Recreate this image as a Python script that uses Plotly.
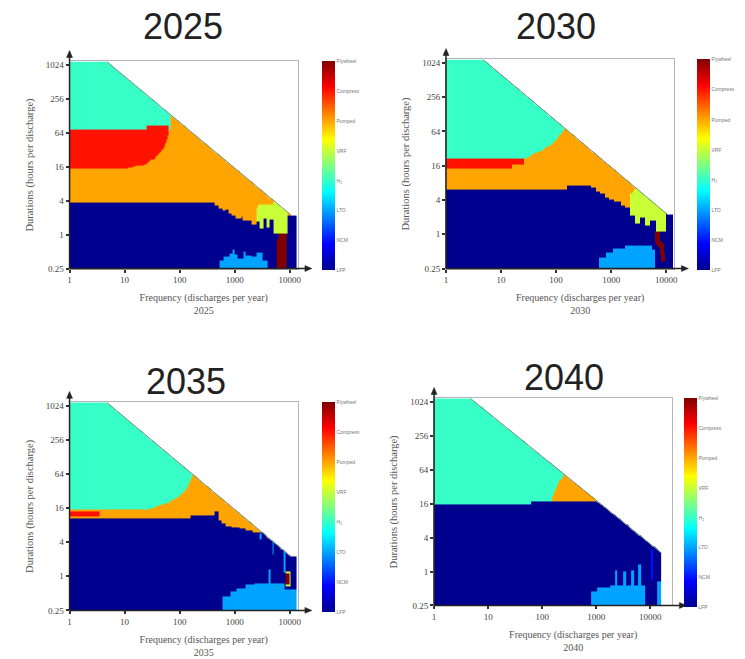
import numpy as np
import plotly.graph_objects as go

# ---------------- data ----------------
categories = ["LFP", "NCM", "LTO", "H<sub>2</sub>", "VRF", "Pumped", "Compress", "Flywheel"]
LFP, NCM, LTO, H2, VRF, PUMPED, COMPRESS, FLYWHEEL = range(8)
years = ["2025", "2030", "2035", "2040"]
freq_tick_vals = [1, 10, 100, 1000, 10000]
freq_tick_text = ["1", "10", "100", "1000", "10000"]
dur_tick_vals = [0.25, 1, 4, 16, 64, 256, 1024]
dur_tick_text = ["0.25", "1", "4", "16", "64", "256", "1024"]

# feasible part of the frequency (discharges/yr) x duration (h) plane
feasible_freq = [1, 1, 4.7, 10700, 13300, 13300]
feasible_hours = [0.25, 1180, 1180, 2.2, 2.2, 0.25]
feasible_2040_freq = [1, 1, 4.7, 16000, 16000]
feasible_2040_hours = [0.25, 1180, 1180, 2.13, 0.25]

# ---- 2025 region outlines (frequency, hours) ----
h2_2025_freq = [1, 68, 68, 1]
h2_2025_hours = [73.5, 73.5, 1200, 1200]
comp_2025_freq = [1, 10, 24, 35, 48, 58, 63, 63, 25, 25, 1]
comp_2025_hours = [14.7, 14.7, 17.8, 22.6, 30.9, 45.3, 64, 83, 83, 74.5, 74.5]
lfp_2025_freq = [1, 1, 430, 430, 500, 500, 600, 600, 690, 690, 760, 760, 890, 890,
                 1050, 1050, 1320, 1320, 1410, 1410, 2000, 2000, 2500, 2500, 13500, 13500]
lfp_2025_hours = [0.25, 3.7, 3.7, 3.25, 3.25, 2.9, 2.9, 2.65, 2.65, 2.85, 2.85, 2.4, 2.4, 2.15,
                  2.15, 1.95, 1.95, 2.05, 2.05, 1.8, 1.8, 1.5, 1.5, 2.25, 2.25, 0.25]
lto_2025_freq = [525, 525, 630, 630, 795, 795, 910, 910, 1000, 1000, 1150, 1150,
                 1450, 1450, 1585, 1585, 2000, 2000, 2510, 2510, 3160, 3160, 3980, 3980]
lto_2025_hours = [0.25, 0.34, 0.34, 0.4, 0.4, 0.47, 0.47, 0.56, 0.56, 0.45, 0.45, 0.38,
                  0.38, 0.5, 0.5, 0.42, 0.42, 0.4, 0.4, 0.49, 0.49, 0.35, 0.35, 0.25]
vrf_2025_freq = [2500, 2820, 5000, 5000, 9100, 9100, 5000, 5000, 4370, 4370, 3800, 3800,
                 3310, 3310, 2950, 2950, 2500]
vrf_2025_hours = [2.83, 3.48, 3.48, 5.3, 5.3, 1.04, 1.04, 1.87, 1.87, 1.32, 1.32, 1.93,
                  1.93, 1.27, 1.27, 1.68, 1.68]
fly_2025_freq = [5750, 5750, 6300, 6300, 8700, 8700]
fly_2025_hours = [0.25, 0.81, 0.81, 1.04, 1.04, 0.25]

# ---- 2030 ----
h2_2030_freq = [1, 28, 40, 56, 76, 93, 110, 126, 145, 145, 1]
h2_2030_hours = [21.9, 21.9, 26, 30.3, 35.5, 42.2, 50.2, 61.8, 73.5, 1200, 1200]
comp_2030_freq = [1, 16, 16, 26, 26, 1]
comp_2030_hours = [14.4, 14.4, 17.1, 17.1, 21.9, 21.9]
lfp_2030_freq = [1, 1, 158, 158, 427, 427, 525, 525, 630, 630, 760, 760, 912, 912,
                 1150, 1150, 1510, 1510, 1820, 1820, 2190, 2190, 13500, 13500]
lfp_2030_hours = [0.25, 6.06, 6.06, 7.3, 7.3, 6.6, 6.6, 5.66, 5.66, 5.1, 5.1, 4.44, 4.44, 4.0,
                  4.0, 3.68, 3.68, 3.29, 3.29, 2.93, 2.93, 4.76, 4.76, 0.25]
vrf_2030_freq = [2190, 2190, 3160, 10000, 10000, 6600, 6600, 5010, 5010, 4170, 4170,
                 3310, 3310, 2750, 2750]
vrf_2030_hours = [2.14, 4.92, 6.96, 6.96, 1.11, 1.11, 1.74, 1.74, 1.41, 1.41, 2.0,
                  2.0, 1.52, 1.52, 2.14]
lto_2030_freq = [600, 600, 795, 795, 1120, 1120, 1780, 1780, 5620, 5620, 6310, 6310]
lto_2030_hours = [0.25, 0.39, 0.39, 0.48, 0.48, 0.56, 0.56, 0.64, 0.64, 0.54, 0.54, 0.25]
fly_2030_freq = [6170, 7590, 7590, 9120, 9550, 7940, 7590, 6170]
fly_2030_hours = [1.11, 1.11, 0.76, 0.66, 0.33, 0.33, 0.57, 0.76]

# ---- 2035 ----
h2_2035_freq = [1, 25, 38, 58, 87, 115, 141, 162, 178, 178, 1]
h2_2035_hours = [14.9, 14.9, 17.1, 19.4, 23.9, 29.9, 39.4, 51.3, 64, 1200, 1200]
comp_2035_freq = [1, 3.4, 3.4, 1]
comp_2035_hours = [11.3, 11.3, 14.1, 14.1]
lfp_2035_freq = [1, 1, 162, 162, 427, 427, 490, 490, 575, 575, 692, 692, 891, 891,
                 1200, 1200, 1585, 1585, 2090, 2090, 3020, 3020, 13500, 13500]
lfp_2035_hours = [0.25, 10.6, 10.6, 12.0, 12.0, 13.7, 13.7, 9.85, 9.85, 8.7, 8.7, 7.73, 7.73,
                  7.31, 7.31, 6.87, 6.87, 6.5, 6.5, 6.15, 6.15, 11.3, 11.3, 0.25]
lto_2035_freq = [600, 600, 830, 830, 1120, 1120, 1585, 1585, 2240, 2240, 4170, 4170,
                 4570, 4570, 7940, 7940, 13500, 13500]
lto_2035_hours = [0.25, 0.44, 0.44, 0.53, 0.53, 0.62, 0.62, 0.7, 0.7, 0.76, 0.76, 1.32,
                  1.32, 0.76, 0.76, 0.6, 0.6, 0.25]
lto_streak1_2035_freq = [2880, 3090, 3090, 2880]
lto_streak1_2035_hours = [4.41, 4.41, 5.66, 5.66]
lto_streak2_2035_freq = [4680, 5010, 5010, 4680]
lto_streak2_2035_hours = [2.43, 2.43, 4.7, 4.7]
lto_streak3_2035_freq = [7590, 8130, 8130, 7590]
lto_streak3_2035_hours = [1.17, 1.17, 3.39, 3.39]
vrf_2035_freq = [8130, 10700, 10700, 8130]
vrf_2035_hours = [0.66, 0.66, 1.23, 1.23]
fly_2035_freq = [8510, 10230, 10230, 8510]
fly_2035_hours = [0.71, 0.71, 1.15, 1.15]

# ---- 2040 ----
h2_2040_freq = [1, 63, 63, 316, 316, 1]
h2_2040_hours = [15.5, 15.5, 17.8, 17.8, 1200, 1200]
pump_2040_freq = [148, 158, 182, 209, 240, 316, 1585, 1585]
pump_2040_hours = [17.8, 22.6, 29.9, 39.4, 48.5, 64, 64, 17.8]
lto_2040_freq = [795, 795, 1050, 1050, 1820, 1820, 2190, 2190, 2400, 2400, 3160, 3160,
                 3550, 3550, 4370, 4370, 4900, 4900, 6030, 6030, 6460, 6460, 7940, 7940]
lto_2040_hours = [0.25, 0.44, 0.44, 0.51, 0.51, 0.57, 0.57, 1.04, 1.04, 0.57, 0.57, 1.0,
                  1.0, 0.57, 0.57, 1.04, 1.04, 0.57, 0.57, 1.32, 1.32, 0.57, 0.57, 0.25]
lto_edge_2040_freq = [13200, 16200, 16200, 13200]
lto_edge_2040_hours = [0.25, 0.25, 0.65, 0.65]
ncm_2040_freq = [10500, 11700, 11700, 10500]
ncm_2040_hours = [0.74, 0.74, 2.43, 2.43]

panels = [
    (PUMPED, feasible_freq, feasible_hours,
     [(H2, h2_2025_freq, h2_2025_hours), (COMPRESS, comp_2025_freq, comp_2025_hours),
      (LFP, lfp_2025_freq, lfp_2025_hours), (LTO, lto_2025_freq, lto_2025_hours),
      (VRF, vrf_2025_freq, vrf_2025_hours), (FLYWHEEL, fly_2025_freq, fly_2025_hours)]),
    (PUMPED, feasible_freq, feasible_hours,
     [(H2, h2_2030_freq, h2_2030_hours), (COMPRESS, comp_2030_freq, comp_2030_hours),
      (LFP, lfp_2030_freq, lfp_2030_hours), (VRF, vrf_2030_freq, vrf_2030_hours),
      (LTO, lto_2030_freq, lto_2030_hours), (FLYWHEEL, fly_2030_freq, fly_2030_hours)]),
    (PUMPED, feasible_freq, feasible_hours,
     [(H2, h2_2035_freq, h2_2035_hours), (COMPRESS, comp_2035_freq, comp_2035_hours),
      (LFP, lfp_2035_freq, lfp_2035_hours), (LTO, lto_2035_freq, lto_2035_hours),
      (LTO, lto_streak1_2035_freq, lto_streak1_2035_hours),
      (LTO, lto_streak2_2035_freq, lto_streak2_2035_hours),
      (LTO, lto_streak3_2035_freq, lto_streak3_2035_hours),
      (VRF, vrf_2035_freq, vrf_2035_hours), (FLYWHEEL, fly_2035_freq, fly_2035_hours)]),
    (LFP, feasible_2040_freq, feasible_2040_hours,
     [(H2, h2_2040_freq, h2_2040_hours), (PUMPED, pump_2040_freq, pump_2040_hours),
      (LTO, lto_2040_freq, lto_2040_hours), (LTO, lto_edge_2040_freq, lto_edge_2040_hours),
      (NCM, ncm_2040_freq, ncm_2040_hours)]),
]

# ---------------- rasterise the region map ----------------
DX, NX = 0.02, 212       # log10 frequency bins
DY, NY = 0.05, 244       # log2 duration bins, starting at 0.25 h
x_edges = 10 ** (np.arange(NX + 1) * DX)
y_edges = 2.0 ** (-2 + np.arange(NY + 1) * DY)
LL, HH = np.meshgrid((np.arange(NX) + 0.5) * DX, -2 + (np.arange(NY) + 0.5) * DY)


def inside(freq, hours):
    pxs = np.log10(np.asarray(freq, float))
    pys = np.log2(np.asarray(hours, float))
    res = np.zeros(LL.shape, bool)
    j = len(pxs) - 1
    for i in range(len(pxs)):
        xi, yi, xj, yj = pxs[i], pys[i], pxs[j], pys[j]
        if yi != yj:
            cross = ((yi > HH) != (yj > HH)) & (LL < (xj - xi) * (HH - yi) / (yj - yi) + xi)
            res ^= cross
        j = i
    return res


grids = []
for default, ff, fh, regions in panels:
    feasible = inside(ff, fh)
    z = np.full(LL.shape, np.nan)
    z[feasible] = default
    for cat, f, h in regions:
        z[inside(f, h) & feasible] = cat
    grids.append(z)

# ---------------- figure ----------------
W, H = 745, 659
jet = [[0, "#00008F"], [0.125, "#0000FF"], [0.375, "#00FFFF"],
       [0.625, "#FFFF00"], [0.875, "#FF0000"], [1, "#800000"]]

geo = [
    dict(l=68, r=298, t=61, b=270, xmax=4.15, cb=322, title=(182, 26)),
    dict(l=447, r=677, t=59, b=270, xmax=4.15, cb=700, title=(558, 26)),
    dict(l=68, r=298, t=405, b=615, xmax=4.15, cb=322, title=(185, 384)),
    dict(l=435, r=675, t=401, b=610, xmax=4.41, cb=687, title=(566, 380)),
]


def px(x):
    return x / W


def py(y):
    return 1 - y / H


serif = "Liberation Serif"
fig = go.Figure()
layout = dict(width=W, height=H, margin=dict(l=0, r=0, t=0, b=0),
              paper_bgcolor="white", plot_bgcolor="white", showlegend=False)
annotations = []
shapes = []
pad = "&nbsp;" * 16

for k, (g, z, year, pan) in enumerate(zip(geo, grids, years, panels)):
    sfx = "" if k == 0 else str(k + 1)
    ff, fh = pan[1], pan[2]
    fig.add_trace(go.Heatmap(z=z, x=x_edges, y=y_edges, coloraxis="coloraxis" + sfx,
                             xaxis="x" + sfx, yaxis="y" + sfx, hoverongaps=False))
    fig.add_trace(go.Scatter(x=ff[2:4], y=fh[2:4], mode="lines",
                             line=dict(color="#6f8f72", width=1), xaxis="x" + sfx,
                             yaxis="y" + sfx, hoverinfo="skip"))
    layout["xaxis" + sfx] = dict(
        domain=[px(g["l"]), px(g["r"])], anchor="y" + sfx, type="log", range=[0, g["xmax"]],
        tickvals=freq_tick_vals, ticktext=freq_tick_text, showgrid=False, zeroline=False,
        showline=True, mirror=True, linecolor="#b5b5b5", linewidth=1,
        ticks="outside", ticklen=3, tickwidth=1.5, tickcolor="#333",
        tickfont=dict(family=serif, size=9, color="#444"),
        title=dict(text=pad + "Frequency (discharges per year)<br>" + pad + year,
                   font=dict(family=serif, size=10, color="#555"), standoff=9))
    layout["yaxis" + sfx] = dict(
        domain=[py(g["b"]), py(g["t"])], anchor="x" + sfx, type="log",
        range=[np.log10(0.25), np.log10(feasible_hours[1])],
        tickvals=dur_tick_vals, ticktext=dur_tick_text, showgrid=False, zeroline=False,
        showline=True, mirror=True, linecolor="#b5b5b5", linewidth=1,
        ticks="outside", ticklen=3, tickwidth=1.5, tickcolor="#333",
        tickfont=dict(family=serif, size=9, color="#444"),
        title=dict(text="Durations (hours per discharge)",
                   font=dict(family=serif, size=10.5, color="#555"), standoff=10))
    layout["coloraxis" + sfx] = dict(
        colorscale=jet, cmin=0, cmax=7,
        colorbar=dict(x=px(g["cb"]), xanchor="left", y=py(g["t"]), yanchor="top",
                      len=g["b"] - g["t"], lenmode="pixels", thickness=13,
                      thicknessmode="pixels", outlinewidth=0, xpad=0, ypad=0,
                      tickvals=list(range(8)), ticktext=categories, ticks="",
                      tickfont=dict(family="Liberation Sans", size=5, color="#777")))
    annotations.append(dict(text=year, x=px(g["title"][0]), y=py(g["title"][1]),
                            xref="paper", yref="paper", showarrow=False,
                            xanchor="center", yanchor="middle",
                            font=dict(family="Liberation Sans", size=36, color="#222")))
    # axis arrows (dark left/bottom axes)
    xe, yt_ = g["r"] + 14, g["t"] - 11
    shapes.append(dict(type="line", xref="paper", yref="paper", x0=px(g["l"]), y0=py(g["b"]),
                       x1=px(xe - 4), y1=py(g["b"]), line=dict(color="#222", width=1.5), layer="above"))
    shapes.append(dict(type="path", xref="paper", yref="paper", layer="above",
                       path=f"M {px(xe)},{py(g['b'])} L {px(xe - 7)},{py(g['b'] - 3)} "
                            f"L {px(xe - 7)},{py(g['b'] + 3)} Z",
                       fillcolor="#222", line=dict(color="#222", width=0.5)))
    shapes.append(dict(type="line", xref="paper", yref="paper", x0=px(g["l"]), y0=py(g["b"]),
                       x1=px(g["l"]), y1=py(yt_ + 4), line=dict(color="#222", width=1.5), layer="above"))
    shapes.append(dict(type="path", xref="paper", yref="paper", layer="above",
                       path=f"M {px(g['l'])},{py(yt_)} L {px(g['l'] - 3)},{py(yt_ + 7)} "
                            f"L {px(g['l'] + 3)},{py(yt_ + 7)} Z",
                       fillcolor="#222", line=dict(color="#222", width=0.5)))

layout["annotations"] = annotations
layout["shapes"] = shapes
fig.update_layout(**layout)
fig.write_html("out.html")
